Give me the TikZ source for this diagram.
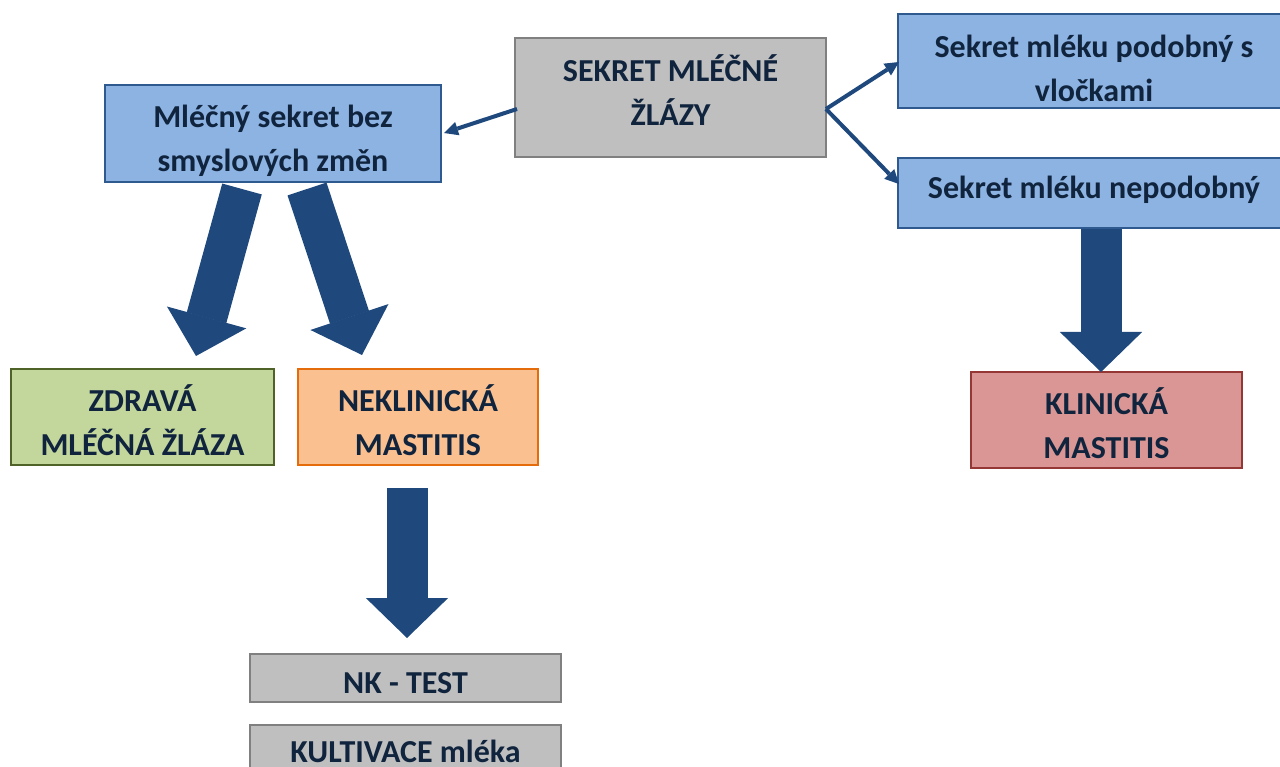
\documentclass[tikz,border=0pt]{standalone}
\usepackage{fontspec}
\setmainfont{Carlito}
\usetikzlibrary{arrows.meta,calc}
\definecolor{arrowblue}{HTML}{1F497D}
\definecolor{txtcol}{HTML}{10243E}
\definecolor{grayfill}{HTML}{BFBFBF}
\definecolor{grayline}{HTML}{808080}
\definecolor{bluefill}{HTML}{8DB3E2}
\definecolor{blueline}{HTML}{2F5A8F}
\definecolor{greenfill}{HTML}{C3D69B}
\definecolor{greenline}{HTML}{4F6228}
\definecolor{orangefill}{HTML}{FAC090}
\definecolor{orangeline}{HTML}{E46C0A}
\definecolor{redfill}{HTML}{D99694}
\definecolor{redline}{HTML}{953735}
\begin{document}
\begin{tikzpicture}[x=1pt,y=-1pt,
  boxbase/.style={rectangle, line width=2pt, inner sep=0pt},
  graybox/.style={boxbase, draw=grayline, fill=grayfill},
  bluebox/.style={boxbase, draw=blueline, fill=bluefill},
  greenbox/.style={boxbase, draw=greenline, fill=greenfill},
  orangebox/.style={boxbase, draw=orangeline, fill=orangefill},
  redbox/.style={boxbase, draw=redline, fill=redfill},
  txtonly/.style={inner sep=0pt, align=center, font=\fontsize{32}{44}\selectfont\bfseries, text=txtcol},
  thinarrow/.style={draw=arrowblue, line width=4pt, -{Triangle[length=14pt,width=14pt,line width=0pt]}},
  fatarrow/.style={draw=arrowblue, line width=41pt, -{Triangle[length=40pt,width=82pt,line width=1.5pt]}}
]
\useasboundingbox (0,0) rectangle (1280,767);
\clip (0,0) rectangle (1280,767);

% boxes
\node[graybox, minimum width=311pt, minimum height=119pt] (sekret) at (670.5,97.5) {};
\node[txtonly] (sekrettxt) at ($(sekret.center)+(0,-7)$) {SEKRET MLÉČNÉ\\ŽLÁZY};

\node[bluebox, minimum width=336pt, minimum height=97pt] (mleko) at (273,133.5) {};
\begin{scope}
  \clip (mleko.north west) rectangle (mleko.south east);
  \node[txtonly] (mlekotxt) at ($(mleko.center)+(0,7.5)$) {Mléčný sekret bez\\smyslových změn};
\end{scope}

\node[bluebox, minimum width=392pt, minimum height=94pt] (podobny) at (1094,61.5) {};
\node[txtonly] (podobnytxt) at ($(podobny.center)+(0,7)$) {Sekret mléku podobný s\\vločkami};

\node[bluebox, minimum width=392pt, minimum height=70pt] (nepodobny) at (1094,193) {};
\node[txtonly] (nepodobnytxt) at ($(nepodobny.center)+(0,-3)$) {Sekret mléku nepodobný};

\node[greenbox, minimum width=263pt, minimum height=96pt] (zdrava) at (142.5,417) {};
\node[txtonly] (zdravatxt) at ($(zdrava.center)+(0,3)$) {ZDRAVÁ\\MLÉČNÁ ŽLÁZA};

\node[orangebox, minimum width=240pt, minimum height=96pt] (neklin) at (418,417) {};
\node[txtonly] (neklintxt) at ($(neklin.center)+(0,3)$) {NEKLINICKÁ\\MASTITIS};

\node[redbox, minimum width=271pt, minimum height=96pt] (klin) at (1106.5,420) {};
\node[txtonly] (klintxt) at ($(klin.center)+(0,3)$) {KLINICKÁ\\MASTITIS};

\node[graybox, minimum width=311pt, minimum height=48pt] (nktest) at (405.5,678) {};
\node[txtonly] (nktesttxt) at ($(nktest.center)+(0,5)$) {NK - TEST};

\node[graybox, minimum width=311pt, minimum height=66pt] (kultivace) at (405.5,758) {};
\node[txtonly] (kultivacetxt) at ($(kultivace.center)+(0,-7)$) {KULTIVACE mléka};

% thin arrows
\coordinate (sekretL) at (517,109);
\coordinate (mlekoR) at (444,133);
\coordinate (fork) at (826,109);
\coordinate (podobnyL) at (899,62);
\coordinate (nepodobnyL) at (899,184);
\draw[thinarrow] (sekretL) -- (mlekoR);
\draw[thinarrow] (fork) -- (podobnyL);
\draw[thinarrow] (fork) -- (nepodobnyL);

% fat arrows
\coordinate (f1s) at (242,189);
\coordinate (f1e) at (196,356);
\coordinate (f2s) at (307,189);
\coordinate (f2e) at (362,355);
\coordinate (f3s) at (1101,229);
\coordinate (f3e) at (1101,372);
\coordinate (f4s) at (407,488);
\coordinate (f4e) at (407,638);
\draw[fatarrow] (f1s) -- (f1e);
\draw[fatarrow] (f2s) -- (f2e);
\draw[fatarrow] (f3s) -- (f3e);
\draw[fatarrow] (f4s) -- (f4e);
\end{tikzpicture}
\end{document}
